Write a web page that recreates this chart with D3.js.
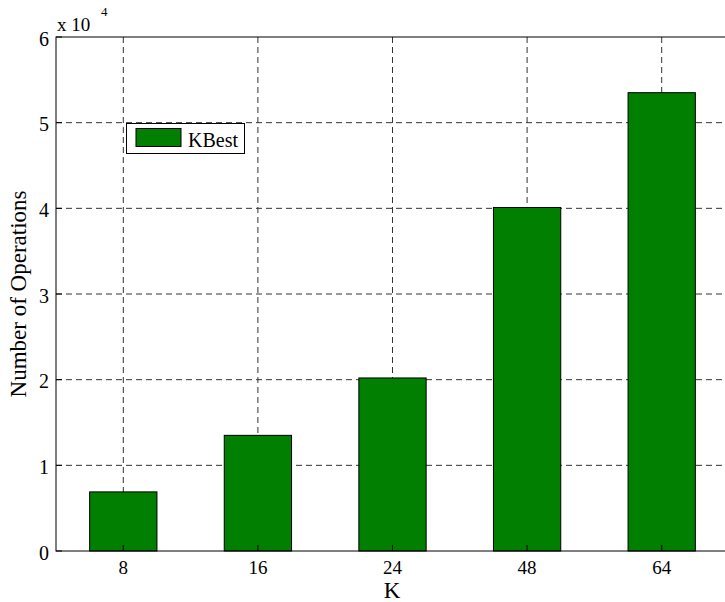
<!DOCTYPE html>
<html><head><meta charset="utf-8">
<script src="https://cdn.jsdelivr.net/npm/d3@7"></script>
<style>
body{margin:0;background:#fff;}
svg text{font-family:"Liberation Serif","Times New Roman",serif;fill:#000;}
</style></head>
<body><svg id="c" width="725" height="602"></svg>
<script>
const categories = ["8","16","24","48","64"];
const values = [6900, 13500, 20200, 40100, 53500];
const yTicks = [0,1,2,3,4,5,6];
const seriesName = "KBest";

const svg = d3.select("#c");
const L = 56, T = 37, B = 551, R = 729;
const x = d3.scaleLinear().domain([0.5, categories.length + 0.5]).range([L, R]);
const y = d3.scaleLinear().domain([0, 60000]).range([B, T]);
const barW = (x(1.5) - x(1));

// grid
const g = svg.append("g");
g.selectAll(".hg").data(yTicks.filter(t => t > 0 && t < 6)).enter().append("line")
  .attr("x1", L).attr("x2", R).attr("y1", d => y(d*1e4)).attr("y2", d => y(d*1e4))
  .attr("stroke", "#333").attr("stroke-width", 1).attr("stroke-dasharray", "6,4");
g.selectAll(".vg").data(categories).enter().append("line")
  .attr("x1", (d,i) => x(i+1)).attr("x2", (d,i) => x(i+1)).attr("y1", T).attr("y2", B)
  .attr("stroke", "#333").attr("stroke-width", 1).attr("stroke-dasharray", "6,4");

// bars
svg.selectAll(".bar").data(values).enter().append("rect")
  .attr("x", (d,i) => x(i+1) - barW/2)
  .attr("y", d => y(d))
  .attr("width", barW)
  .attr("height", d => B - y(d))
  .attr("fill", "#007f00").attr("stroke", "#000").attr("stroke-width", 1);

// axes box
svg.append("rect").attr("x", L).attr("y", T).attr("width", R - L).attr("height", B - T)
  .attr("fill", "none").attr("stroke", "#000").attr("stroke-width", 1);

// ticks
svg.selectAll(".yt").data(yTicks).enter().append("line")
  .attr("x1", L).attr("x2", L + 6).attr("y1", d => y(d*1e4)).attr("y2", d => y(d*1e4))
  .attr("stroke", "#000");
svg.selectAll(".ytl").data(yTicks).enter().append("text")
  .attr("x", L - 7).attr("y", d => y(d*1e4) + 8.5).attr("text-anchor", "end")
  .attr("font-size", 20).text(d => d);
svg.selectAll(".xt").data(categories).enter().append("line")
  .attr("x1", (d,i) => x(i+1)).attr("x2", (d,i) => x(i+1)).attr("y1", B).attr("y2", B - 6)
  .attr("stroke", "#000");
svg.selectAll(".xtl").data(categories).enter().append("text")
  .attr("x", (d,i) => x(i+1)).attr("y", B + 23).attr("text-anchor", "middle")
  .attr("font-size", 19).text(d => d);

// exponent
svg.append("text").attr("x", 57).attr("y", 31).attr("font-size", 19).attr("xml:space","preserve").text("x 10");
svg.append("text").attr("x", 101).attr("y", 16).attr("font-size", 13).text("4");

// labels
svg.append("text").attr("x", 392).attr("y", 598).attr("text-anchor", "middle")
  .attr("font-size", 23).text("K");
svg.append("text").attr("transform", `translate(26,${(T+B)/2}) rotate(-90)`)
  .attr("text-anchor", "middle").attr("font-size", 23).text("Number of Operations");

// legend
const lg = svg.append("g");
lg.append("rect").attr("x", 126.5).attr("y", 123.5).attr("width", 118).attr("height", 30)
  .attr("fill", "#fff").attr("stroke", "#000");
lg.append("rect").attr("x", 136).attr("y", 128.5).attr("width", 45).attr("height", 18)
  .attr("fill", "#007f00").attr("stroke", "#000");
lg.append("text").attr("x", 188).attr("y", 147).attr("font-size", 20).text(seriesName);
</script></body></html>
